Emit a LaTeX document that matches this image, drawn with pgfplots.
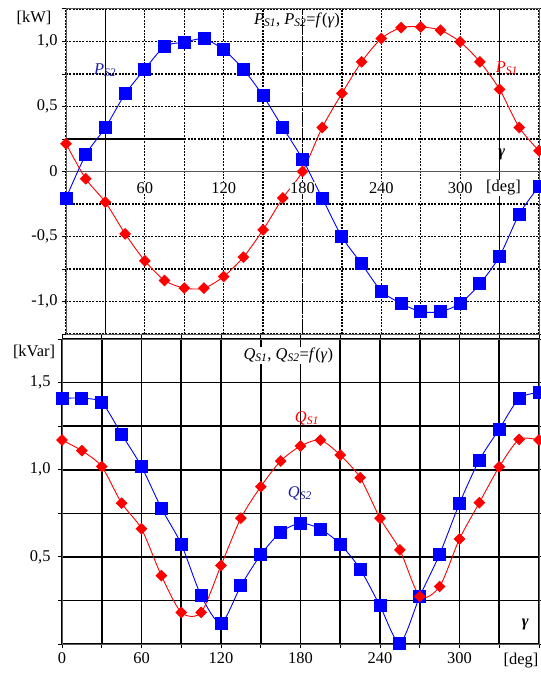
\documentclass[border=0pt]{standalone}
\usepackage{fontspec}
\setmainfont{Liberation Serif}
\usepackage{pgfplots}
\pgfplotsset{compat=1.18}

\definecolor{pblue}{RGB}{0,0,255}
\definecolor{pred}{RGB}{255,0,0}
\definecolor{lblue}{RGB}{30,30,170}

\newcommand{\lab}{\fontsize{16.5}{19}\selectfont}
\newcommand{\sub}[1]{\textsubscript{\textit{#1}}}

\tikzset{inlab/.style={font=\lab, fill=white, inner sep=0.5pt}}

\pgfplotsset{
  common/.style={
    scale only axis,
    clip=false,
    xmin=0, xmax=360,
    axis line style={gray!70!black, line width=1pt},
    tick label style={font=\lab},
    tick style={black, line width=1pt},
    tick align=outside,
    major tick length=4bp,
  },
  curve/.style={smooth, tension=0.45, line width=0.9pt},
  sqmark/.style={mark=square*, mark size=6bp, mark options={solid}},
  dimark/.style={mark=square*, mark size=3.7bp, mark options={solid, rotate=45}},
}

\begin{document}
\begin{tikzpicture}[x=1bp, y=1bp]
\useasboundingbox (0,0) rectangle (541,-673);

% ---------- active power ----------
\begin{axis}[common,
  at={(66bp,-9bp)}, anchor=north west,
  width=473bp, height=325bp,
  ymin=-1.25, ymax=1.25,
  xtick={0,30,...,360}, xticklabels={},
  xtick style={draw=none},
  ytick={-1.25,-1,...,1.25},
  yticklabels={,{-1,0},,{-0,5},,0,,{0,5},,{1,0},},
  yticklabel style={xshift=-1bp},
  grid=major,
  major grid style={black, line width=1.3pt, dash pattern=on 2pt off 1.3pt},
]
  % heavier grid segments
  \draw[black, line width=1.8pt] (axis cs:30,-1.25) -- (axis cs:30,1.25);
  \draw[black, line width=1.8pt] (axis cs:330,-1.25) -- (axis cs:330,1.25);
  \draw[black, line width=1.8pt, dash pattern=on 3pt off 1pt] (axis cs:180,-1.25) -- (axis cs:180,1.25);
  \draw[black, line width=1.8pt] (axis cs:0,0.25) -- (axis cs:90,0.25);
  \draw[black, line width=1.2pt] (axis cs:90,0.5) -- (axis cs:310,0.5);
  \draw[gray!70!black, line width=1pt] (axis cs:0,0) -- (axis cs:360,0);

  % P_S2
  \addplot[pblue, curve, sqmark] coordinates {
    (0,-0.205) (15,0.128) (30,0.338) (45,0.597) (60,0.787) (75,0.962)
    (90,0.995) (105,1.02) (120,0.936) (135,0.787) (150,0.582) (165,0.338)
    (180,0.095) (195,-0.204) (210,-0.503) (225,-0.71) (240,-0.92) (255,-1.015)
    (270,-1.078) (285,-1.078) (300,-1.015) (315,-0.864) (330,-0.652) (345,-0.327)
    (360,-0.115)
  };
  % P_S1
  \addplot[pred, curve, dimark] coordinates {
    (0,0.213) (15,-0.056) (30,-0.236) (45,-0.479) (60,-0.687) (75,-0.838)
    (90,-0.897) (105,-0.897) (120,-0.808) (135,-0.659) (150,-0.449) (165,-0.204)
    (180,0.0) (195,0.338) (210,0.601) (225,0.844) (240,1.023) (255,1.107)
    (270,1.112) (285,1.087) (300,0.997) (315,0.844) (330,0.632) (345,0.338)
    (360,0.159)
  };

  \node[inlab] at (axis cs:60,-0.125) {60};
  \node[inlab] at (axis cs:120,-0.125) {120};
  \node[inlab] at (axis cs:180,-0.125) {180};
  \node[inlab] at (axis cs:240,-0.125) {240};
  \node[inlab] at (axis cs:300,-0.125) {300};
  \node[inlab] at (axis cs:333,-0.125) {[deg]};
  \node[font=\lab] at (axis cs:331.6,0.128) {\textbf{\textit{γ}}};
  \node[font=\lab] at (axis cs:175.8,1.163) {\textit{P}\sub{S1}, \textit{P}\sub{S2}=\textit{f}(\textit{γ})};
  \node[font=\lab, text=lblue] at (axis cs:29.7,0.78) {\textit{P}\sub{S2}};
  \node[font=\lab, text=pred] at (axis cs:335.6,0.795) {\textit{P}\sub{S1}};
\end{axis}
\node[font=\lab] at (34,-18) {[kW]};

% ---------- reactive power ----------
\begin{axis}[common,
  at={(62bp,-644bp)}, anchor=south west,
  width=477bp, height=305bp,
  ymin=0, ymax=1.75,
  xtick={0,30,...,360},
  xticklabels={0,,60,,120,,180,,240,,300,,},
  xticklabel style={yshift=-1bp},
  ytick={0,0.25,...,1.75},
  yticklabels={,,{0,5},,{1,0},,{1,5},},
  yticklabel style={xshift=-4bp},
  grid=major,
  major grid style={black, line width=1.6pt},
]
  % Q_S2
  \addplot[pblue, curve, sqmark] coordinates {
    (0,1.41) (15,1.41) (30,1.385) (45,1.203) (60,1.018) (75,0.779)
    (90,0.573) (105,0.277) (120,0.12) (135,0.334) (150,0.512) (165,0.641)
    (180,0.693) (195,0.66) (210,0.573) (225,0.43) (240,0.219) (255,0.006)
    (270,0.273) (285,0.515) (300,0.807) (315,1.056) (330,1.233) (345,1.409)
    (360,1.443)
  };
  % Q_S1
  \addplot[pred, curve, dimark] coordinates {
    (0,1.17) (15,1.109) (30,1.018) (45,0.808) (60,0.661) (75,0.392)
    (90,0.181) (105,0.181) (120,0.451) (135,0.722) (150,0.903) (165,1.05)
    (180,1.136) (195,1.17) (210,1.084) (225,0.954) (240,0.722) (255,0.54)
    (270,0.273) (285,0.33) (300,0.603) (315,0.811) (330,1.017) (345,1.174)
    (360,1.17)
  };

  \node[font=\lab, fill=white, inner sep=1pt] at (axis cs:170.8,1.657) {\textit{Q}\sub{S1}, \textit{Q}\sub{S2}=\textit{f}(\textit{γ})};
  \node[font=\lab, text=pred] at (axis cs:184.8,1.297) {\textit{Q}\sub{S1}};
  \node[font=\lab, text=lblue] at (axis cs:179.5,0.867) {\textit{Q}\sub{S2}};
  \node[font=\lab] at (axis cs:349.6,0.11) {\textbf{\textit{γ}}};
\end{axis}
\node[font=\lab] at (521,-661) {[deg]};
\node[font=\lab] at (34,-352) {[kVar]};
\end{tikzpicture}
\end{document}
